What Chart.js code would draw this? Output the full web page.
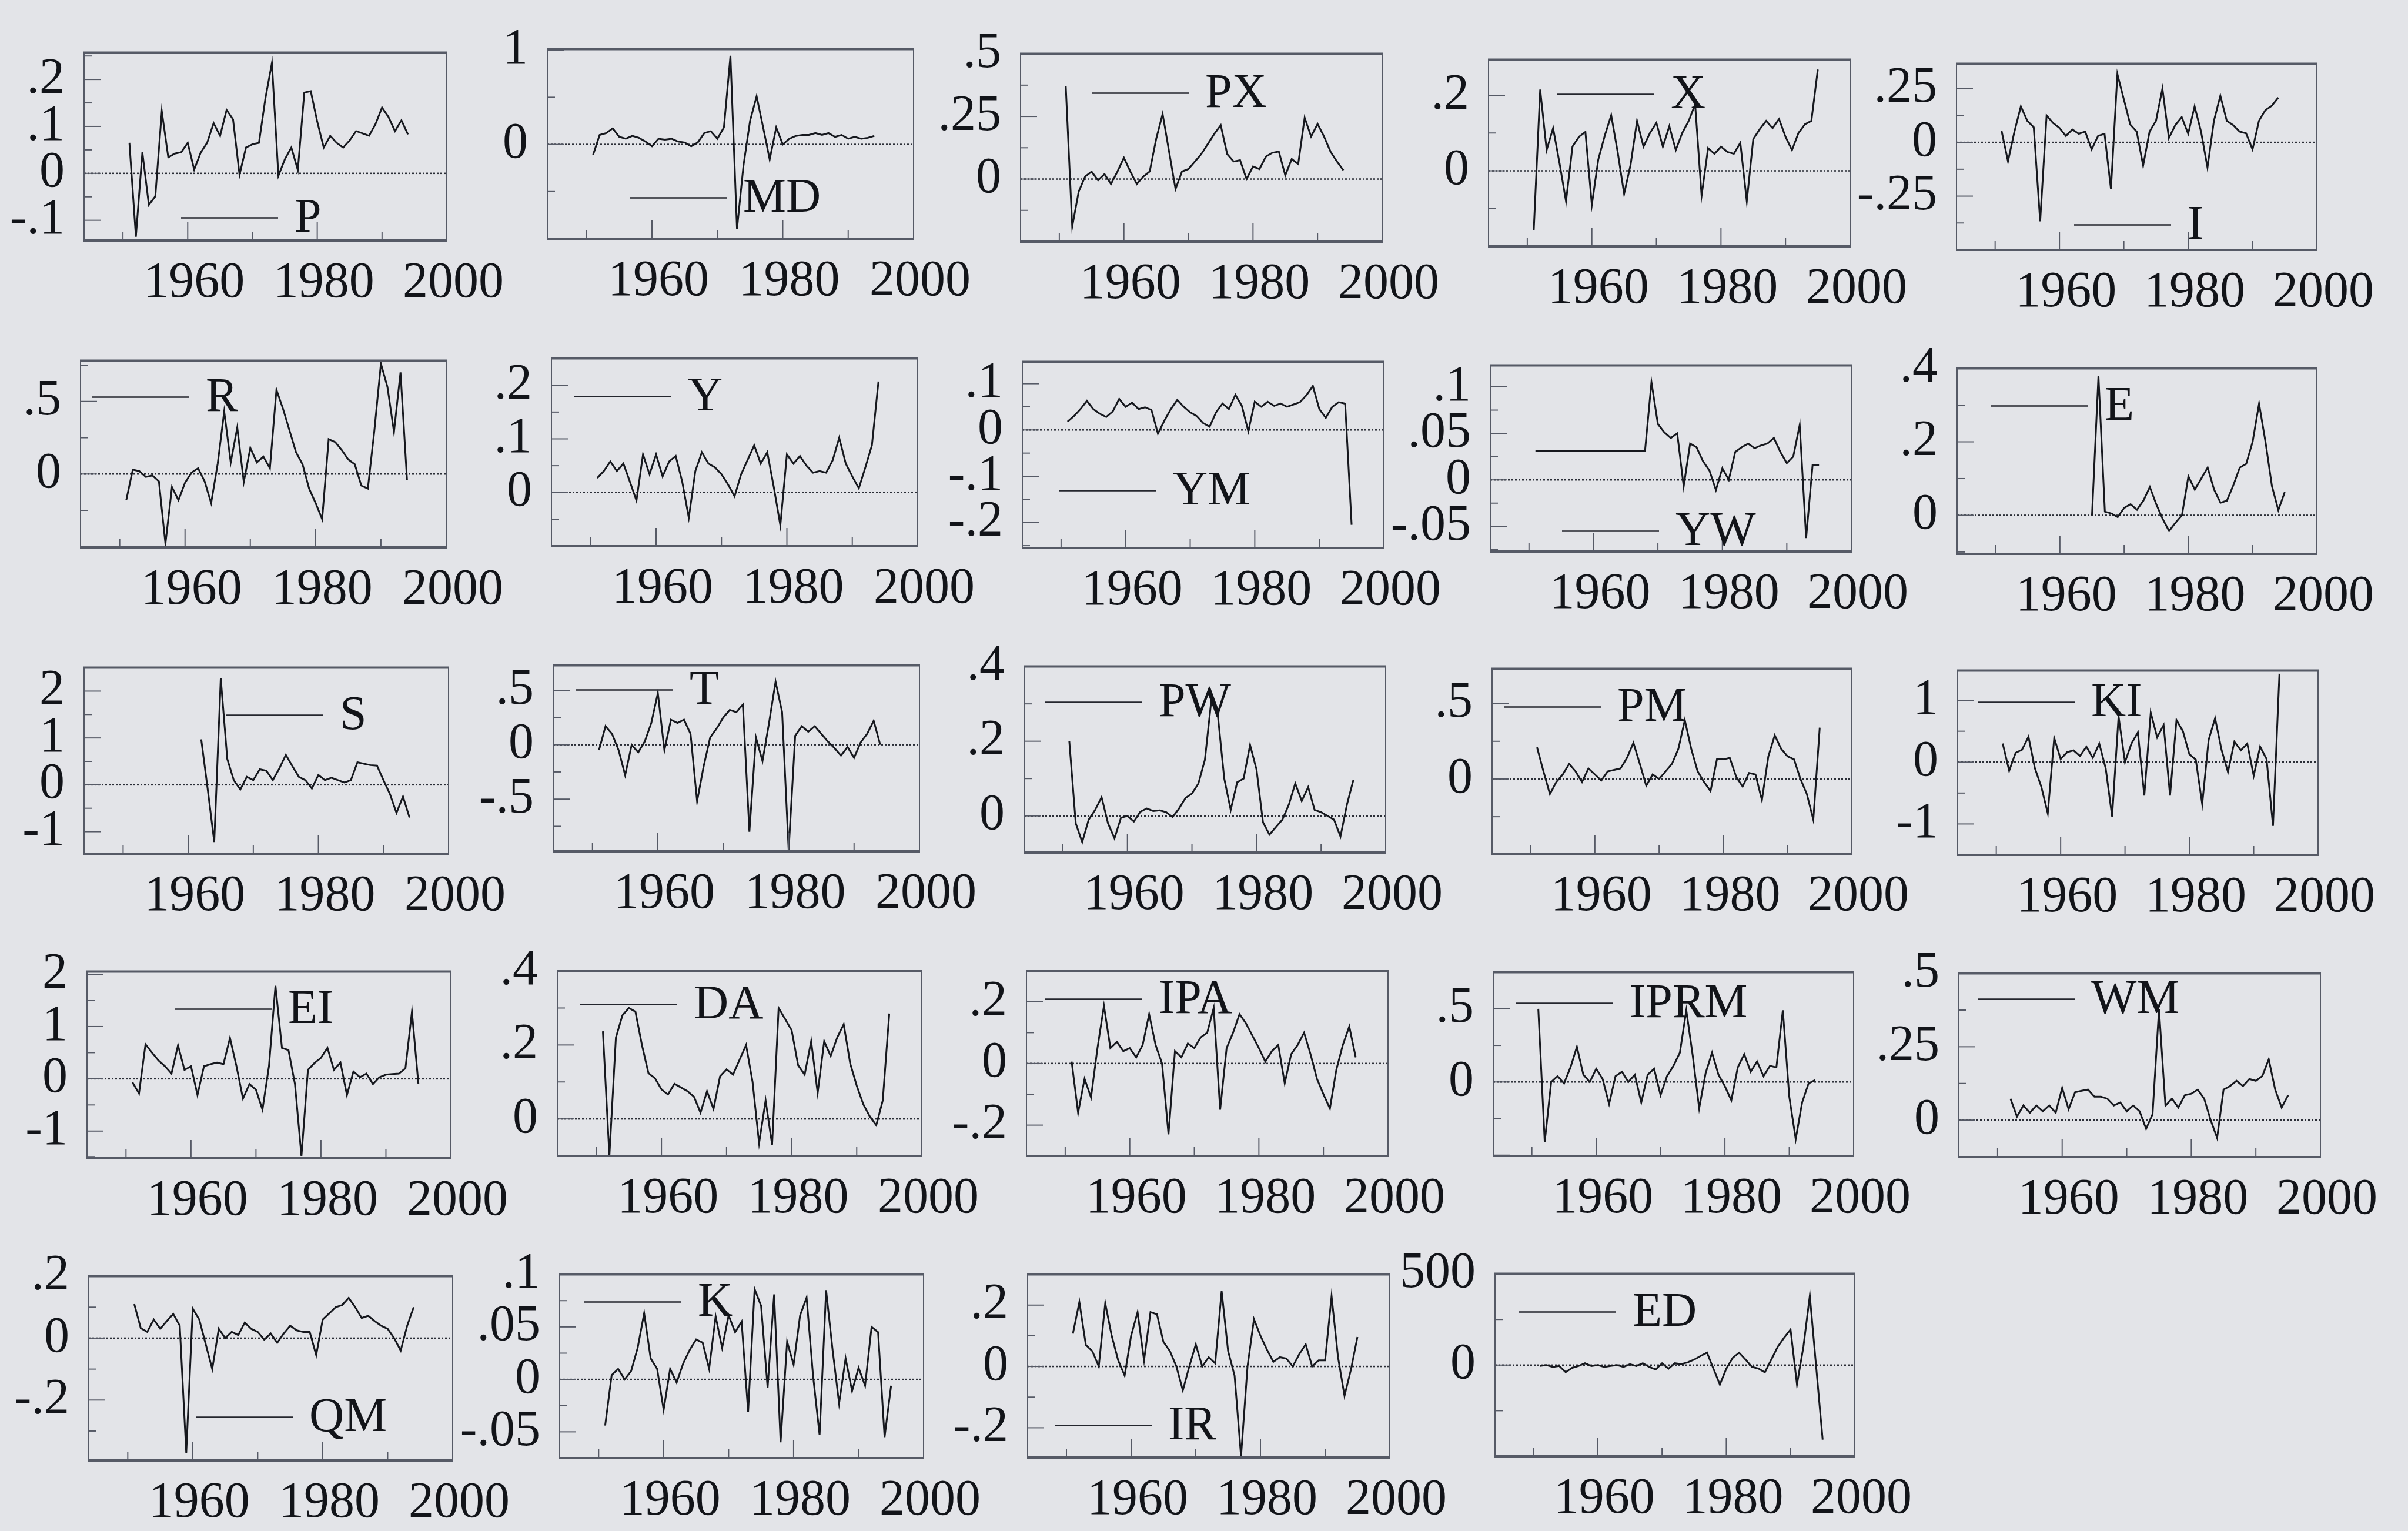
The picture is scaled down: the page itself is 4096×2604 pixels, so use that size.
<!DOCTYPE html>
<html>
<head>
<meta charset="utf-8">
<script src="https://cdn.jsdelivr.net/npm/chart.js@4.4.1/dist/chart.umd.min.js"></script>
<style>
html, body { margin: 0; padding: 0; background: #e3e4e8; }
#wrap { position: relative; width: 4096px; height: 2604px; overflow: hidden; background: #e3e4e8; }
#wrap canvas { position: absolute; }
</style>
</head>
<body>
<div id="wrap"></div>
<script>
// annual series
const seriesP = [.065,-.135,.045,-.067,-.049,.132,.034,.042,.045,.065,.008,.044,.065,.107,.08,.135,.115,-.003,.055,.062,.065,.16,.235,-.005,.03,.055,.007,.172,.175,.11,.055,.08,.065,.055,.07,.09,.085,.08,.105,.14,.12,.09,.113,.083]
const seriesMD = [-.11,.10,.12,.17,.08,.06,.09,.07,.03,-.02,.06,.05,.06,.03,.02,-.02,.02,.12,.14,.06,.18,.94,-.9,-.22,.25,.51,.18,-.16,.18,0,.06,.09,.1,.1,.12,.1,.12,.08,.1,.06,.08,.06,.07,.09]
const seriesPX = [.37,-.19,-.05,.01,.03,-.005,.02,-.02,.03,.085,.03,-.02,.01,.03,.16,.26,.11,-.04,.03,.04,.07,.1,.14,.18,.215,.1,.07,.075,0,.05,.04,.09,.105,.11,.015,.08,.06,.245,.17,.22,.17,.11,.07,.035]
const seriesX = [-.158,.215,.055,.113,.02,-.081,.064,.09,.103,-.09,.03,.093,.147,.05,-.061,.016,.132,.064,.1,.127,.064,.118,.055,.1,.132,.176,-.066,.06,.045,.064,.05,.045,.074,-.081,.084,.11,.132,.113,.137,.09,.055,.1,.123,.132,.268]
const seriesI = [.054,-.088,.05,.167,.1,.07,-.367,.125,.09,.067,.03,.06,.04,.05,-.033,.03,.04,-.217,.317,.2,.083,.05,-.108,.05,.1,.25,.02,.08,.117,.04,.167,.05,-.117,.1,.217,.1,.08,.05,.042,-.033,.1,.15,.17,.208]
const seriesR = [-.18,.03,.02,-.02,-.01,-.05,-.48,-.09,-.18,-.06,.01,.04,-.05,-.2,.07,.43,.08,.32,-.055,.18,.08,.12,.04,.58,.45,.3,.15,.067,-.1,-.2,-.31,.24,.22,.165,.1,.067,-.08,-.1,.3,.76,.6,.29,.70,-.04]
const seriesY = [.027,.04,.058,.04,.054,.02,-.015,.071,.034,.071,.03,.058,.068,.02,-.047,.04,.075,.054,.047,.034,.015,-.007,.034,.061,.088,.054,.075,.01,-.061,.071,.054,.068,.05,.037,.04,.037,.06,.102,.054,.03,.008,.047,.088,.207]
const seriesYM = [.018,.03,.045,.063,.045,.035,.028,.04,.067,.05,.059,.045,.049,.043,-.008,.02,.045,.065,.05,.038,.03,.015,.007,.038,.057,.045,.076,.052,-.003,.061,.05,.061,.052,.057,.05,.055,.06,.075,.095,.045,.026,.05,.06,.057,-.205]
const seriesYW = [.031,.031,.031,.031,.031,.031,.031,.031,.031,.031,.031,.031,.031,.031,.031,.031,.031,.031,.105,.06,.051,.045,.05,-.007,.039,.035,.02,.01,-.011,.0125,0,.03,.035,.039,.034,.037,.039,.045,.03,.018,.025,.059,-.0625,.016,.016]
const seriesE = [0,.38,.01,.005,-.005,.02,.03,.015,.04,.077,.03,-.01,-.043,-.02,0,.106,.07,.1,.13,.07,.034,.04,.082,.13,.14,.2,.304,.2,.08,.014,.063]
const seriesS = [.97,-.1,-1.22,2.27,.55,.1,-.1,.17,.1,.33,.3,.1,.35,.64,.4,.17,.1,-.08,.21,.1,.15,.1,.05,.1,.48,.45,.42,.41,.1,-.2,-.6,-.25,-.7]
const seriesT = [-.05,.17,.1,-.05,-.28,0,-.07,.03,.2,.475,-.05,.23,.2,.23,.1,-.52,-.2,.067,.15,.25,.32,.3,.37,-.8,.067,-.15,.2,.58,.3,-.97,.083,.17,.12,.17,.1,.03,-.03,-.1,-.02,-.12,.02,.1,.22,0]
const seriesPW = [.2,-.02,-.07,-.01,.016,.05,-.02,-.06,-.005,0,-.015,.011,.02,.013,.015,.01,-.003,.02,.048,.06,.087,.15,.31,.27,.1,.016,.09,.1,.19,.124,-.017,-.05,-.03,-.01,.03,.087,.04,.077,.016,.01,0,-.01,-.055,.03,.096]
const seriesPM = [.21,.05,-.1,-.02,.03,.1,.05,-.02,.07,.03,-.01,.05,.06,.07,.14,.24,.1,-.045,.03,0,.05,.1,.2,.39,.2,.05,-.02,-.08,.13,.13,.14,.014,-.05,.04,.03,-.14,.15,.29,.2,.15,.13,0,-.1,-.27,.34]
const seriesKI = [.3,-.14,.15,.2,.41,-.1,-.4,-.83,.39,.05,.16,.19,.1,.25,.07,.3,-.1,-.88,.74,0,.3,.48,-.54,.8,.4,.6,-.54,.68,.5,.13,.04,-.68,.36,.71,.2,-.16,.33,.19,.3,-.22,.25,.05,-1.03,1.43]
const seriesEI = [-.07,-.28,.66,.5,.35,.24,.1,.64,.17,.24,-.31,.24,.28,.31,.28,.78,.24,-.38,-.1,-.21,-.59,.24,1.78,.59,.55,-.1,-1.48,.17,.3,.4,.59,.17,.31,-.31,.14,.03,.1,-.1,.03,.08,.09,.1,.2,1.28,-.1]
const seriesDA = [.237,-.1,.22,.28,.3,.29,.2,.124,.11,.08,.066,.095,.085,.075,.06,.017,.075,.027,.115,.134,.12,.16,.2,.1,-.066,.05,-.07,.3,.27,.24,.145,.12,.21,.07,.21,.17,.22,.256,.15,.09,.04,.007,-.017,.05,.285]
const seriesIPA = [.006,-.16,-.05,-.11,.05,.187,.05,.07,.04,.05,.02,.06,.16,.06,0,-.23,.04,.02,.065,.05,.085,.1,.18,-.15,.05,.1,.16,.13,.09,.05,.006,.04,.06,-.064,.03,.06,.1,.03,-.05,-.1,-.146,-.02,.06,.12,.02]
const seriesIPRM = [.5,-.41,0,.04,-.01,.1,.24,.05,0,.09,.02,-.15,.04,.07,0,.05,-.14,.05,.09,-.09,.04,.11,.2,.49,.18,-.18,.06,.2,.05,-.03,-.125,.1,.19,.07,.14,.04,.11,.1,.49,-.1,-.39,-.14,-.01,.013]
const seriesWM = [.073,.012,.05,.025,.05,.03,.05,.025,.11,.037,.095,.1,.104,.08,.08,.073,.05,.06,.03,.05,.03,-.03,.02,.378,.049,.073,.043,.085,.09,.104,.073,0,-.061,.104,.116,.134,.116,.14,.134,.15,.207,.104,.043,.085]
const seriesQM = [.11,.032,.02,.06,.03,.055,.078,.04,-.37,.095,.06,-.02,-.1,.03,0,.02,.01,.05,.03,.02,-.005,.015,-.015,.015,.04,.025,.02,.02,-.055,.06,.08,.1,.107,.13,.1,.065,.072,.055,.04,.03,0,-.04,.04,.1]
const seriesK = [-.044,.004,.01,0,.008,.03,.063,.02,.01,-.029,.01,-.003,.015,.028,.038,.035,.01,.06,.03,.061,.045,.055,-.031,.086,.07,-.008,.081,-.06,.036,.014,.061,.078,.003,-.053,.085,.028,-.023,.02,-.011,.011,-.006,.05,.045,-.055,-.006]
const seriesIR = [.107,.21,.07,.05,0,.206,.1,.02,-.03,.1,.177,.02,.177,.17,.08,.05,0,-.078,0,.072,0,.03,.01,.246,.05,-.03,-.293,0,.154,.1,.055,.015,.03,.026,0,.04,.072,0,.02,.02,.229,.03,-.096,-.01,.096]
const seriesED = [-5,0,-10,-5,-39,-15,-5,10,-5,0,-10,-5,0,-10,5,-5,10,-10,-24,10,-20,10,5,15,30,50,68,-20,-107,-20,40,68,30,-10,-19,-40,30,100,150,195,-107,100,380,-15,-409]

const names = ['P','MD','PX','X','I','R','Y','YM','YW','E','S','T','PW','PM','KI','EI','DA','IPA','IPRM','WM','QM','K','IR','ED']
const series = [seriesP,seriesMD,seriesPX,seriesX,seriesI,seriesR,seriesY,seriesYM,seriesYW,seriesE,seriesS,seriesT,seriesPW,seriesPM,seriesKI,seriesEI,seriesDA,seriesIPA,seriesIPRM,seriesWM,seriesQM,seriesK,seriesIR,seriesED]
const firstYear = [1951,1951,1951,1951,1951,1951,1951,1951,1951,1965,1962,1951,1951,1951,1951,1951,1951,1951,1951,1952,1951,1951,1951,1951]

// axes
const yMin = [-.143,-1,-.25,-.2,-.5,-.505,-.1,-.255,-.077,-.105,-1.47,-.98,-.098,-.495,-1.5,-1.52,-.1,-.3,-.505,-.126,-.395,-.075,-.297,-500]
const yMax = [.257,1.01,.5,.294,.365,.78,.25,.147,.123,.4,2.5,.73,.4,.73,1.48,2.05,.4,.3,.75,.5,.2,.1,.3,500]
const yTicks = [
  [.2,.1,0,-.1],[1,0],[.5,.25,0],[.2,0],[.25,0,-.25],
  [.5,0],[.2,.1,0],[.1,0,-.1,-.2],[.1,.05,0,-.05],[.4,.2,0],
  [2,1,0,-1],[.5,0,-.5],[.4,.2,0],[.5,0],[1,0,-1],
  [2,1,0,-1],[.4,.2,0],[.2,0,-.2],[.5,0],[.5,.25,0],
  [.2,0,-.2],[.1,.05,0,-.05],[.2,0,-.2],[500,0]
]
const xMin = 1944, xMax = 2000
const xLabels = [1960, 1980, 2000]
const xMarks = [1950, 1960, 1970, 1980, 1990]

// layout (px): plot frames and legend offsets inside them
const frames = [
  [143,65,760,409],[931,59,1554,406],[1736,67,2351,411],[2532,77,3147,419],[3328,84,3941,425],
  [137,589,759,931],[938,585,1561,929],[1739,591,2354,932],[2535,597,3149,938],[3329,602,3941,942],
  [143,1111,763,1452],[941,1107,1564,1448],[1742,1109,2357,1450],[2538,1113,3150,1452],[3330,1116,3943,1454],
  [148,1628,767,1970],[948,1627,1568,1966],[1746,1627,2361,1966],[2540,1629,3153,1966],[3332,1631,3947,1968],
  [151,2146,770,2484],[952,2143,1571,2480],[1748,2143,2364,2479],[2543,2142,3155,2477]
]
const legendAt = [
  [165,281],[140,253],[121,67],[117,59],[200,274],
  [20,62],[39,65],[63,219],[122,282],[58,64],
  [242,81],[39,42],[36,61],[20,65],[34,54],
  [149,64],[39,57],[32,48],[39,53],[32,44],
  [182,240],[42,47],[46,257],[41,65]
]

const FONT = 'Liberation Serif'
const ink = '#121419'
const frameCol = '#565a66'
const LW = 200, PT = 60, PR = 140, BH = 130

function fmt(v) {
  return String(v).replace(/^(-?)0\./, '$1.')
}

const panelPlugin = {
  id: 'panelDeco',
  beforeDatasetsDraw(chart, args, opts) {
    const ctx = chart.ctx, a = chart.chartArea
    const y0 = chart.scales.y.getPixelForValue(0)
    ctx.save()
    ctx.strokeStyle = '#2a2d36'
    ctx.lineWidth = 2.5
    ctx.setLineDash([3, 3])
    ctx.beginPath()
    ctx.moveTo(a.left, y0)
    ctx.lineTo(a.right, y0)
    ctx.stroke()
    ctx.restore()
  },
  afterDraw(chart, args, opts) {
    const ctx = chart.ctx, a = chart.chartArea
    const xs = chart.scales.x, ys = chart.scales.y
    ctx.save()
    ctx.strokeStyle = frameCol
    // tick marks inside the frame
    ctx.lineWidth = 2
    const step = opts.step, half = step / 2
    for (let k = Math.ceil(ys.min / half - 1e-6); k * half <= ys.max + 1e-9; k++) {
      const v = k * half
      const major = k % 2 === 0
      const py = ys.getPixelForValue(v)
      ctx.beginPath()
      ctx.moveTo(a.left, py)
      ctx.lineTo(a.left + (major ? 28 : 13), py)
      ctx.stroke()
    }
    xMarks.forEach(yr => {
      const px = xs.getPixelForValue(yr)
      const major = yr % 20 === 0
      ctx.beginPath()
      ctx.moveTo(px, a.bottom)
      ctx.lineTo(px, a.bottom - (major ? 31 : 15))
      ctx.stroke()
    })
    // frame
    ctx.lineWidth = 2
    ctx.beginPath()
    ctx.moveTo(a.left, a.top); ctx.lineTo(a.left, a.bottom)
    ctx.moveTo(a.right, a.top); ctx.lineTo(a.right, a.bottom)
    ctx.stroke()
    ctx.lineWidth = 4
    ctx.beginPath()
    ctx.moveTo(a.left - 1, a.top); ctx.lineTo(a.right + 1, a.top)
    ctx.moveTo(a.left - 1, a.bottom); ctx.lineTo(a.right + 1, a.bottom)
    ctx.stroke()
    // legend key
    const lx = a.left + opts.legend[0], ly = a.top + opts.legend[1]
    ctx.strokeStyle = '#24262e'
    ctx.lineWidth = 2.5
    ctx.beginPath()
    ctx.moveTo(lx, ly)
    ctx.lineTo(lx + 165, ly)
    ctx.stroke()
    ctx.fillStyle = ink
    ctx.font = '82px "' + FONT + '"'
    ctx.textBaseline = 'middle'
    ctx.textAlign = 'left'
    ctx.fillText(opts.label, lx + 165 + 28, ly + 2)
    ctx.restore()
  }
}

const wrap = document.getElementById('wrap')

names.forEach((name, i) => {
  const [fL, fT, fR, fB] = frames[i]
  const cv = document.createElement('canvas')
  cv.width = fR - fL + LW + PR
  cv.height = fB - fT + PT + BH
  cv.style.left = (fL - LW) + 'px'
  cv.style.top = (fT - PT) + 'px'
  wrap.appendChild(cv)

  const pts = series[i].map((v, j) => ({ x: firstYear[i] + j, y: v }))
  const ticksY = yTicks[i]

  new Chart(cv.getContext('2d'), {
    type: 'line',
    data: {
      datasets: [{
        data: pts,
        borderColor: '#16181e',
        borderWidth: 3,
        pointRadius: 0,
        tension: 0,
        fill: false
      }]
    },
    options: {
      responsive: false,
      animation: false,
      devicePixelRatio: 1,
      layout: { padding: { top: PT, right: PR, left: 0, bottom: 0 } },
      plugins: {
        legend: { display: false },
        tooltip: { enabled: false },
        panelDeco: { step: ticksY[0] - ticksY[1], legend: legendAt[i], label: name }
      },
      scales: {
        x: {
          type: 'linear',
          min: xMin,
          max: xMax,
          afterFit(s) { s.height = BH },
          afterBuildTicks(s) { s.ticks = xLabels.map(v => ({ value: v })) },
          grid: { display: false, drawTicks: false },
          border: { display: false },
          ticks: {
            color: ink,
            font: { family: FONT, size: 86 },
            padding: 22,
            labelOffset: 11,
            autoSkip: false,
            maxRotation: 0,
            minRotation: 0,
            callback: v => String(v)
          }
        },
        y: {
          min: yMin[i],
          max: yMax[i],
          afterFit(s) { s.width = LW },
          afterBuildTicks(s) { s.ticks = ticksY.map(v => ({ value: v })) },
          grid: { display: false, drawTicks: false },
          border: { display: false },
          ticks: {
            color: ink,
            font: { family: FONT, size: 86 },
            padding: 33,
            autoSkip: false,
            callback: v => fmt(v)
          }
        }
      }
    },
    plugins: [panelPlugin]
  })
})
</script>
</body>
</html>
